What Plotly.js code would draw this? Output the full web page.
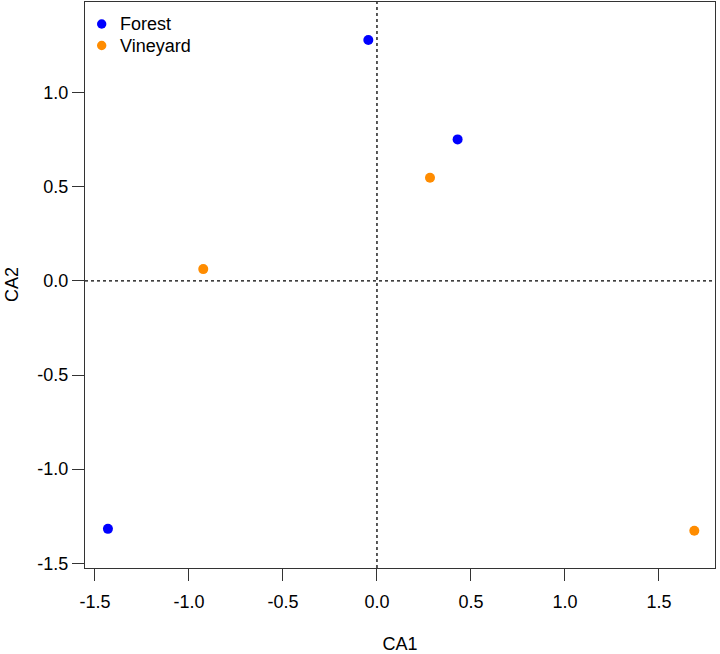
<!DOCTYPE html>
<html>
<head>
<meta charset="utf-8">
<script src="https://cdn.plot.ly/plotly-3.0.1.min.js"></script>
<style>html,body{margin:0;padding:0;background:#fff;}#chart{width:720px;height:654px;}</style>
</head>
<body>
<div id="chart"></div>
<script>
const forestCA1 = [-0.046, 0.429, -1.431];
const forestCA2 = [1.280, 0.752, -1.317];
const vineyardCA1 = [0.282, -0.924, 1.688];
const vineyardCA2 = [0.548, 0.063, -1.327];
const groupNames = ["Forest", "Vineyard"];
const groupColors = ["#0000FF", "#FF8C00"];
const xTickVals = [-1.5, -1.0, -0.5, 0.0, 0.5, 1.0, 1.5];
const xTickText = ["-1.5", "-1.0", "-0.5", "0.0", "0.5", "1.0", "1.5"];
const yTickVals = [-1.5, -1.0, -0.5, 0.0, 0.5, 1.0];
const yTickText = ["-1.5", "-1.0", "-0.5", "0.0", "0.5", "1.0"];

const FONT = "Liberation Sans, Arial, Helvetica, sans-serif";
const FS = 18;

const traces = [
  {x: forestCA1, y: forestCA2, mode: "markers", type: "scatter", name: groupNames[0],
   marker: {color: groupColors[0], size: 10}},
  {x: vineyardCA1, y: vineyardCA2, mode: "markers", type: "scatter", name: groupNames[1],
   marker: {color: groupColors[1], size: 10}}
];

// legend drawn inside the plot (top-left), R-style
const legendY = [0.9611, 0.9231];
const legendShapes = groupNames.map((n, i) => ({
  type: "circle", xref: "paper", yref: "paper", xsizemode: "pixel", ysizemode: "pixel",
  xanchor: 0.0265, yanchor: legendY[i], x0: -4.7, x1: 4.7, y0: -4.7, y1: 4.7,
  fillcolor: groupColors[i], line: {width: 0}
}));
const legendAnnots = groupNames.map((n, i) => ({
  xref: "paper", yref: "paper", x: 0.0524, y: legendY[i], xanchor: "left", yanchor: "middle",
  text: n, showarrow: false, font: {family: FONT, size: FS, color: "#000"}
}));

const yTitle = {
  xref: "paper", yref: "paper", x: 0, y: 0.5, xanchor: "center", yanchor: "middle",
  xshift: -73, textangle: -90, text: "CA2", showarrow: false,
  font: {family: FONT, size: FS, color: "#000"}
};

const layout = {
  width: 720, height: 654,
  margin: {l: 85, r: 5, t: 2, b: 86, pad: 0},
  paper_bgcolor: "#fff", plot_bgcolor: "#fff",
  font: {family: FONT, size: FS, color: "#000"},
  showlegend: false,
  xaxis: {range: [-1.553, 1.798], tickmode: "array", tickvals: xTickVals, ticktext: xTickText,
          ticks: "outside", ticklen: 12, tickwidth: 1, tickcolor: "#333", ticklabelstandoff: 5,
          showline: true, mirror: true, linecolor: "#333", linewidth: 1,
          showgrid: false, zeroline: false, automargin: false,
          title: {text: "CA1", standoff: 35, font: {family: FONT, size: FS}}},
  yaxis: {range: [-1.525, 1.482], tickmode: "array", tickvals: yTickVals, ticktext: yTickText,
          ticks: "outside", ticklen: 12, tickwidth: 1, tickcolor: "#333",
          showline: true, mirror: true, linecolor: "#333", linewidth: 1,
          showgrid: false, zeroline: false, automargin: false},
  shapes: [
    {type: "line", xref: "x", yref: "paper", x0: 0, x1: 0, y0: 0, y1: 1,
     line: {color: "#000", width: 1.3, dash: "dot"}, layer: "below"},
    {type: "line", xref: "paper", yref: "y", x0: 0, x1: 1, y0: 0, y1: 0,
     line: {color: "#000", width: 1.3, dash: "dot"}, layer: "below"}
  ].concat(legendShapes),
  annotations: legendAnnots.concat([yTitle])
};

Plotly.newPlot("chart", traces, layout, {displayModeBar: false, staticPlot: true});
</script>
</body>
</html>
